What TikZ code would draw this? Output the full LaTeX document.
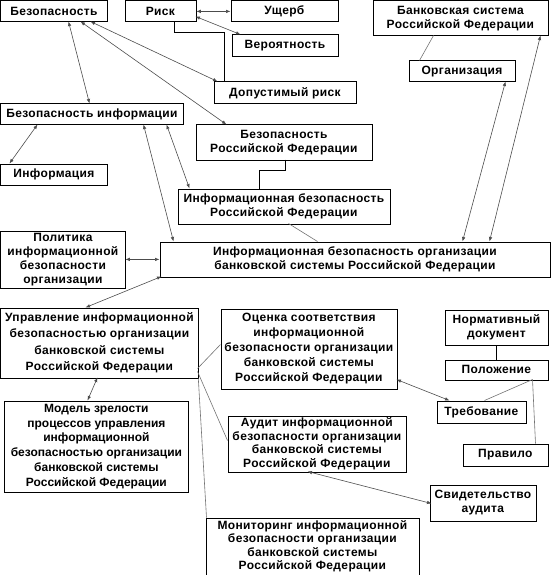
\documentclass[tikz,border=0pt]{standalone}
\usepackage{fontspec}
\setmainfont{Liberation Sans}[LetterSpace=3]
\newfontfamily\tightfont{Liberation Sans}
\usepackage{tikz}
\usetikzlibrary{arrows.meta,calc}

\begin{document}
\begin{tikzpicture}[
    x=1pt, y=-1pt,
    font=\fontsize{12}{14}\selectfont\bfseries,
    box/.style   = {draw, line width=0.8pt, anchor=north west, align=center,
                    inner sep=1pt},
    biarr/.style = {{Latex[length=4.5pt,width=3.5pt]}-{Latex[length=4.5pt,width=3.5pt]},
                    draw=black!70, line width=0.6pt},
    lnk/.style   = {draw=black!55, line width=0.6pt},
    olnk/.style  = {draw=black, line width=0.8pt},
]
\useasboundingbox (-0.5,-0.5) rectangle (550.5,574.5);

% ============ Top row: basic terms ============
\node[box, minimum width=106, minimum height=21] (bez) at (0,0) {Безопасность};
\node[box, minimum width=71, minimum height=21] (risk) at (124,0) {Риск};
\node[box, minimum width=107, minimum height=21] (ushcherb) at (230,0) {Ущерб};
\node[box, minimum width=106, minimum height=22] (veroyat) at (231,34) {Вероятность};
\node[box, minimum width=142, minimum height=22] (dopust) at (213,81) {Допустимый риск};
\node[box, minimum width=175, minimum height=35] (bankrf) at (372,0)
    {Банковская система\\Российской Федерации};
\node[box, minimum width=106, minimum height=21] (organiz) at (408,60) {Организация};

\draw[biarr] (risk.east) -- (ushcherb.west);
\draw[biarr] ($(risk.north west)+(71,16)$) -- ($(veroyat.north west)+(9,0)$);
\draw[olnk] ($(risk.south west)+(50,0)$) -- ++(0,10) -| ($(dopust.north west)+(11,0)$);
\draw[biarr] ($(bez.north west)+(90,21)$) -- ($(dopust.north west)+(4,0)$);
\draw[lnk] ($(bankrf.north west)+(61,35)$) -- ($(organiz.north west)+(11,0)$);

% ============ Second level ============
\node[box, minimum width=182, minimum height=21] (bezinf) at (0,103) {Безопасность информации};
\node[box, minimum width=106, minimum height=21] (inform) at (0,163) {Информация};
\node[box, minimum width=176, minimum height=35] (bezrf) at (195,124)
    {Безопасность\\Российской Федерации};
\node[box, minimum width=212, minimum height=35] (ibrf) at (177,188)
    {Информационная безопасность\\Российской Федерации};

\draw[biarr] ($(bez.north west)+(68,21)$) -- ($(bezinf.north west)+(89,0)$);
\draw[biarr] ($(bez.north west)+(80,21)$) -- ($(bezrf.north west)+(31,0)$);
\draw[biarr] ($(bezinf.north west)+(37,21)$) -- ($(inform.north west)+(9,0)$);
\draw[biarr] ($(bezinf.north west)+(166,21)$) -- ($(ibrf.north west)+(12,0)$);
\draw[olnk] ($(bezrf.north west)+(90,35)$) -- ++(0,11) -| ($(ibrf.north west)+(82,0)$);

% ============ Central term ============
\node[box, minimum width=390, minimum height=35] (iborg) at (159,241)
    {Информационная безопасность организации\\банковской системы Российской Федерации};
\node[box, minimum width=124, minimum height=57] (polit) at (0,230)
    {Политика\\информационной\\безопасности\\организации};

\draw[biarr] ($(bezinf.north west)+(143,21)$) -- ($(iborg.north west)+(14,0)$);
\draw[lnk] ($(ibrf.north west)+(111,35)$) -- ($(iborg.north west)+(158,0)$);
\draw[biarr] ($(organiz.north west)+(97,21)$) -- ($(iborg.north west)+(303,0)$);
\draw[biarr] ($(bankrf.north west)+(168,35)$) -- ($(iborg.north west)+(330,0)$);
\draw[biarr] (polit.east) -- (iborg.west);

% ============ Management and its processes ============
\node[box, minimum width=197, minimum height=70, font=\fontsize{12}{16.5}\selectfont\bfseries]
    (upr) at (0,307)
    {Управление информационной\\безопасностью организации\\банковской системы\\Российской Федерации};
\node[box, minimum width=183, minimum height=91, font=\tightfont\fontsize{12}{14.7}\selectfont\bfseries]
    (model) at (4,400)
    {Модель зрелости\\процессов управления\\информационной\\безопасностью организации\\банковской системы\\Российской Федерации};
\node[box, minimum width=176, minimum height=80, font=\fontsize{12}{15}\selectfont\bfseries]
    (ocenka) at (220,308)
    {Оценка соответствия\\информационной\\безопасности организации\\банковской системы\\Российской Федерации};
\node[box, minimum width=178, minimum height=56, font=\fontsize{12}{13.5}\selectfont\bfseries]
    (audit) at (227,415)
    {Аудит информационной\\безопасности организации\\банковской системы\\Российской Федерации};
\node[box, minimum width=213, minimum height=57, font=\fontsize{12}{13.5}\selectfont\bfseries]
    (monit) at (205,517)
    {Мониторинг информационной\\безопасности организации\\банковской системы\\Российской Федерации};

\draw[biarr] ($(iborg.north west)+(2,35)$) -- ($(upr.north west)+(85,0)$);
\draw[biarr] ($(upr.north west)+(97,70)$) -- ($(model.north west)+(83,0)$);
\draw[lnk] ($(upr.north west)+(197,61)$) -- ($(ocenka.north west)+(0,36)$);
\draw[lnk] ($(upr.north west)+(197,64)$) -- ($(audit.north west)+(0,25)$);
\draw[lnk] (upr.south east) -- ($(monit.north west)+(1,0)$);

% ============ Normative document ============
\node[box, minimum width=103, minimum height=35] (normdoc) at (444,309)
    {Нормативный\\документ};
\node[box, minimum width=103, minimum height=20] (polozh) at (444,359) {Положение};
\node[box, minimum width=89, minimum height=22] (treb) at (436,400) {Требование};
\node[box, minimum width=85, minimum height=22] (pravilo) at (462,443) {Правило};
\node[box, minimum width=106, minimum height=36] (svid) at (429,484)
    {Свидетельство\\аудита};

\draw[olnk] (normdoc.south) -- (polozh.north);
\draw[lnk] ($(polozh.north west)+(88,20)$) -- ($(treb.north west)+(48,0)$);
\draw[lnk] ($(polozh.north west)+(88,20)$) -- ($(pravilo.north west)+(73,0)$);
\draw[biarr] ($(ocenka.north west)+(176,71)$) -- ($(treb.north west)+(13,0)$);
\draw[biarr] ($(audit.north west)+(80,56)$) -- ($(svid.north west)+(2,19)$);

\end{tikzpicture}
\end{document}
